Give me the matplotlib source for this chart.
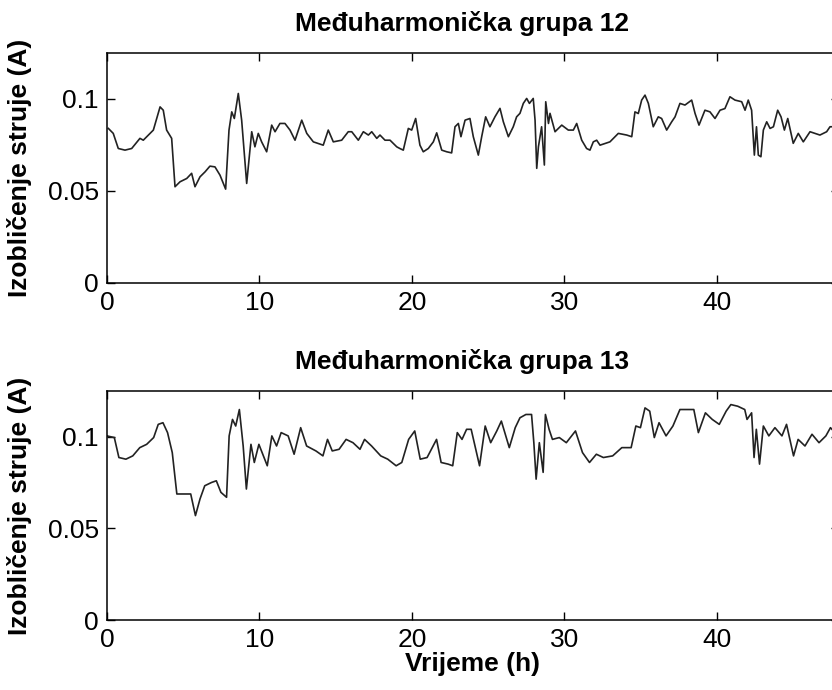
import matplotlib
matplotlib.use('Agg')
import matplotlib.pyplot as plt

plt.rcParams['font.family'] = ['Liberation Sans', 'DejaVu Sans']

# Međuharmonička grupa 12
hours_12 = [0.09, 0.41, 0.74, 1.18, 1.62, 2.16, 2.38, 3.04, 3.48, 3.69, 3.91, 4.24, 4.46, 4.79,
            5.23, 5.55, 5.77, 6.10, 6.43, 6.75, 7.08, 7.41, 7.78, 8.00, 8.18, 8.35, 8.61, 8.83,
            9.16, 9.49, 9.70, 9.92, 10.14, 10.47, 10.80, 11.02, 11.34, 11.67, 12.00, 12.33,
            12.77, 13.10, 13.53, 14.18, 14.51, 14.84, 15.39, 15.82, 16.05, 16.48, 16.81, 17.14,
            17.36, 17.69, 17.90, 18.23, 18.56, 19.00, 19.20, 19.43, 19.76, 19.98, 20.24, 20.52,
            20.74, 21.07, 21.40, 21.62, 21.95, 22.28, 22.60, 22.82, 23.04, 23.21, 23.48, 23.80,
            24.02, 24.35, 24.57, 24.83, 25.11, 25.44, 25.77, 25.99, 26.32, 26.64, 26.86, 27.08,
            27.30, 27.52, 27.70, 27.95, 28.07, 28.18, 28.29, 28.50, 28.68, 28.77, 28.95, 29.05,
            29.38, 29.82, 30.25, 30.58, 30.80, 31.13, 31.45, 31.67, 31.89, 32.11, 32.33, 32.98,
            33.53, 34.08, 34.41, 34.62, 34.84, 35.06, 35.28, 35.50, 35.82, 36.15, 36.37, 36.70,
            37.03, 37.25, 37.57, 37.90, 38.34, 38.56, 38.82, 39.21, 39.54, 39.87, 40.20, 40.52,
            40.85, 41.18, 41.62, 41.84, 42.05, 42.27, 42.45, 42.59, 42.71, 42.88, 43.04, 43.26,
            43.48, 43.70, 43.98, 44.20, 44.42, 44.64, 45.00, 45.33, 45.66, 46.10, 46.43, 46.75,
            47.19, 47.41, 48.00]
current_12 = [0.0840, 0.0813, 0.0731, 0.0722, 0.0731, 0.0786, 0.0776, 0.0831, 0.0957, 0.0939,
              0.0831, 0.0786, 0.0523, 0.0550, 0.0568, 0.0596, 0.0523, 0.0577, 0.0604, 0.0635,
              0.0631, 0.0586, 0.0510, 0.0831, 0.0930, 0.0894, 0.1030, 0.0885, 0.0541, 0.0822,
              0.0740, 0.0813, 0.0767, 0.0713, 0.0858, 0.0822, 0.0867, 0.0867, 0.0831, 0.0776,
              0.0885, 0.0813, 0.0767, 0.0749, 0.0831, 0.0767, 0.0776, 0.0822, 0.0822, 0.0776,
              0.0822, 0.0804, 0.0822, 0.0786, 0.0804, 0.0776, 0.0776, 0.0740, 0.0731, 0.0722,
              0.0840, 0.0831, 0.0894, 0.0749, 0.0713, 0.0731, 0.0767, 0.0816, 0.0722, 0.0713,
              0.0707, 0.0849, 0.0867, 0.0795, 0.0885, 0.0894, 0.0795, 0.0695, 0.0795, 0.0903,
              0.0849, 0.0903, 0.0949, 0.0876, 0.0795, 0.0849, 0.0903, 0.0922, 0.0976, 0.1003,
              0.0976, 0.1003, 0.0885, 0.0623, 0.0740, 0.0849, 0.0641, 0.0985, 0.0867, 0.0922,
              0.0822, 0.0858, 0.0831, 0.0831, 0.0867, 0.0776, 0.0731, 0.0722, 0.0767, 0.0776,
              0.0749, 0.0767, 0.0813, 0.0804, 0.0795, 0.0930, 0.0921, 0.0994, 0.1021, 0.0976,
              0.0849, 0.0903, 0.0894, 0.0831, 0.0876, 0.0903, 0.0976, 0.0967, 0.0994, 0.0922,
              0.0858, 0.0939, 0.0930, 0.0894, 0.0939, 0.0948, 0.1012, 0.0994, 0.0985, 0.0939,
              0.0994, 0.0939, 0.0695, 0.0849, 0.0695, 0.0686, 0.0831, 0.0876, 0.0840, 0.0849,
              0.0939, 0.0903, 0.0831, 0.0894, 0.0759, 0.0813, 0.0767, 0.0822, 0.0813, 0.0804,
              0.0822, 0.0849, 0.0850]

# Međuharmonička grupa 13
hours_13 = [0.00, 0.48, 0.78, 1.24, 1.69, 2.15, 2.60, 3.06, 3.36, 3.67, 3.97, 4.28, 4.58, 5.04,
            5.49, 5.80, 6.10, 6.41, 6.86, 7.17, 7.47, 7.84, 8.01, 8.23, 8.44, 8.68, 8.93, 9.14,
            9.44, 9.66, 9.96, 10.51, 10.81, 11.12, 11.42, 11.88, 12.27, 12.70, 13.09, 13.70,
            14.16, 14.46, 14.77, 15.22, 15.68, 16.13, 16.59, 16.89, 17.35, 17.95, 18.41, 18.96,
            19.33, 19.78, 20.18, 20.54, 20.99, 21.61, 21.91, 22.37, 22.67, 22.97, 23.28, 23.58,
            23.88, 24.43, 24.80, 25.16, 25.56, 25.86, 26.38, 26.77, 27.08, 27.47, 27.84, 27.99,
            28.14, 28.35, 28.60, 28.75, 28.99, 29.21, 29.66, 30.12, 30.72, 31.18, 31.64, 32.09,
            32.55, 33.16, 33.76, 34.37, 34.68, 34.98, 35.28, 35.59, 35.89, 36.20, 36.66, 37.11,
            37.57, 38.17, 38.48, 38.78, 39.24, 39.69, 40.15, 40.60, 40.91, 41.36, 41.82, 41.97,
            42.27, 42.43, 42.58, 42.79, 43.04, 43.40, 43.80, 44.26, 44.56, 45.02, 45.32, 45.77,
            46.23, 46.69, 47.14, 47.44, 48.00]
current_13 = [0.1005, 0.0996, 0.0887, 0.0878, 0.0896, 0.0941, 0.0959, 0.0996, 0.1068, 0.1077,
              0.1023, 0.0914, 0.0688, 0.0688, 0.0688, 0.0570, 0.0661, 0.0733, 0.0751, 0.0760,
              0.0697, 0.0670, 0.1005, 0.1095, 0.1059, 0.1149, 0.0950, 0.0715, 0.0959, 0.0860,
              0.0959, 0.0842, 0.1005, 0.0950, 0.1023, 0.1005, 0.0905, 0.1050, 0.0950, 0.0923,
              0.0896, 0.0986, 0.0923, 0.0932, 0.0986, 0.0968, 0.0932, 0.0986, 0.0950, 0.0896,
              0.0878, 0.0842, 0.0860, 0.0986, 0.1032, 0.0878, 0.0887, 0.0986, 0.0860, 0.0851,
              0.0842, 0.1023, 0.0986, 0.1041, 0.1041, 0.0842, 0.1059, 0.0968, 0.1032, 0.1086,
              0.0941, 0.1050, 0.1104, 0.1122, 0.1122, 0.0968, 0.0769, 0.0968, 0.0806, 0.1122,
              0.1041, 0.0986, 0.0996, 0.0968, 0.1032, 0.0914, 0.0860, 0.0905, 0.0887, 0.0896,
              0.0941, 0.0941, 0.1059, 0.1050, 0.1158, 0.1140, 0.0996, 0.1077, 0.1005, 0.1059,
              0.1149, 0.1149, 0.1149, 0.1023, 0.1131, 0.1095, 0.1068, 0.1140, 0.1176, 0.1167,
              0.1149, 0.1095, 0.1131, 0.0887, 0.1041, 0.0851, 0.1059, 0.1005, 0.1050, 0.1005,
              0.1068, 0.0896, 0.0986, 0.0950, 0.1014, 0.0968, 0.1005, 0.1050, 0.1000]

titles = ['Međuharmonička grupa 12', 'Međuharmonička grupa 13']
y_ticks = [0, 0.05, 0.1]
y_ticklabels = ['0', '0.05', '0.1']
x_ticks = [0, 10, 20, 30, 40]

fig = plt.figure(figsize=(8.32, 6.9), dpi=100)
ax_top = fig.add_axes([0.1286, 0.5899, 0.8798, 0.3333])
ax_bot = fig.add_axes([0.1286, 0.1014, 0.8798, 0.3319])

series = [(ax_top, hours_12, current_12), (ax_bot, hours_13, current_13)]
for i, (ax, xs, ys) in enumerate(series):
    ax.plot(xs, ys, color='#222222', linewidth=1.2)
    ax.set_xlim(0, 48)
    ax.set_ylim(0, 0.125)
    ax.set_xticks(x_ticks)
    ax.set_yticks(y_ticks)
    ax.set_yticklabels(y_ticklabels)
    ax.tick_params(direction='in', length=6, width=1, labelsize=19, pad=6,
                   top=True, right=True)
    for s in ax.spines.values():
        s.set_linewidth(1.1)
    ax.set_ylabel('Izobličenje struje (A)', fontsize=19, fontweight='bold')
    ax.yaxis.set_label_coords(-0.103, 0.5)
    ax.set_title(titles[i], fontsize=19, fontweight='bold', pad=16, x=0.485)

ax_bot.set_xlabel('Vrijeme (h)', fontsize=19, fontweight='bold', labelpad=0)

fig.savefig('out.png', dpi=100)
